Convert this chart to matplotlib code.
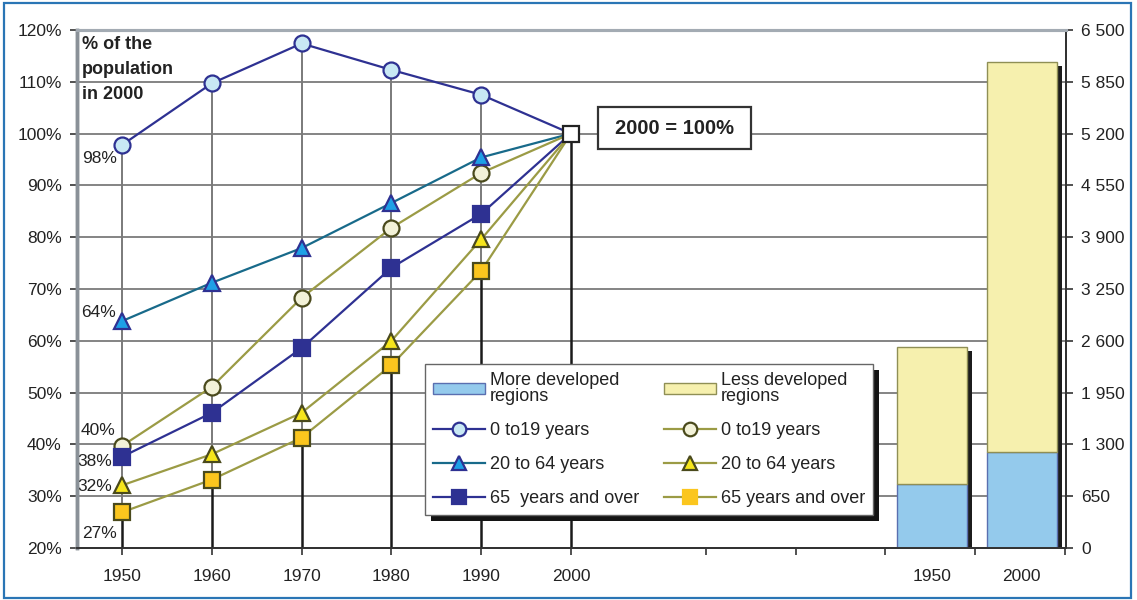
import matplotlib
matplotlib.use("Agg")
import matplotlib.pyplot as plt
from matplotlib.patches import Rectangle, Patch
from matplotlib.lines import Line2D
from matplotlib.transforms import IdentityTransform

plt.rcParams['font.family'] = ['Liberation Sans', 'DejaVu Sans']

# ---- data ------------------------------------------------------------
years = [1950, 1960, 1970, 1980, 1990, 2000]

# population as % of the 2000 level, more developed regions
more_0_19 = [97.8, 109.7, 117.4, 112.3, 107.5, 100]
more_20_64 = [63.8, 71.2, 77.9, 86.6, 95.4, 100]
more_65 = [37.6, 46.1, 58.6, 74.1, 84.5, 100]

# population as % of the 2000 level, less developed regions
less_0_19 = [39.7, 51.1, 68.3, 81.8, 92.4, 100]
less_20_64 = [32.1, 38.1, 46.1, 60.0, 79.6, 100]
less_65 = [26.9, 33.2, 41.3, 55.3, 73.5, 100]

# total population (millions)
bar_years = ["1950", "2000"]
pop_more = [805, 1205]
pop_less = [1720, 4890]

pct_ticks = [20, 30, 40, 50, 60, 70, 80, 90, 100, 110, 120]
pop_ticks = [0, 650, 1300, 1950, 2600, 3250, 3900, 4550, 5200, 5850, 6500]

# ---- layout ----------------------------------------------------------
W, H = 1137, 600
fig = plt.figure(figsize=(W / 100, H / 100), dpi=100)
L, R, B, T = 77, 1066, 548, 30
ax = fig.add_axes([L / W, 1 - B / H, (R - L) / W, (B - T) / H])
ax2 = ax.twinx()

xmin, xmax = 1944.99, 2055.12
ax.set_xlim(xmin, xmax)
ax.set_ylim(20, 120)
ax2.set_ylim(0, 6500)

BLUE = '#2e3192'
TEAL = '#186a8a'
OLIVE = '#9b9b45'
DARK_OLIVE = '#4a4a1c'
TXT = '#222222'

# horizontal gridlines
ax.set_yticks(pct_ticks)
ax.set_yticklabels([f"{v}%" for v in pct_ticks])
for v in pct_ticks[1:-1]:
    ax.axhline(v, color='#707070', lw=1.2, zorder=1)

# high-low lines (grey) and drop lines to the axis (black)
all_series = [more_0_19, more_20_64, more_65, less_0_19, less_20_64, less_65]
for i, x in enumerate(years):
    vals = [s[i] for s in all_series]
    lo, hi = min(vals), max(vals)
    ax.plot([x, x], [20, lo], color='#1a1a1a', lw=1.8, zorder=2, solid_capstyle='butt')
    if hi > lo:
        ax.plot([x, x], [lo, hi], color='#7a7a7a', lw=1.4, zorder=2, solid_capstyle='butt')

# series
styles = [
    (more_0_19, BLUE, 'o', '#c8e8f4', BLUE, 11.5, "0 to19 years"),
    (more_20_64, TEAL, '^', '#1ea0e6', BLUE, 11.5, "20 to 64 years"),
    (more_65, BLUE, 's', BLUE, BLUE, 12, "65  years and over"),
    (less_0_19, OLIVE, 'o', '#f3f2d8', DARK_OLIVE, 11.5, "0 to19 years"),
    (less_20_64, OLIVE, '^', '#f6e61c', DARK_OLIVE, 11.5, "20 to 64 years"),
    (less_65, OLIVE, 's', '#fbc61e', DARK_OLIVE, 12, "65 years and over"),
]
line_handles = []
for k, (vals, lc, mk, mfc, mec, ms, lab) in enumerate(styles):
    ax.plot(years[:-1], vals[:-1], color=lc, lw=1.6, marker=mk, ms=ms,
            mfc=mfc, mec=mec, mew=1.6, zorder=4 + (6 - k) * 0.1)
    ax.plot(years[-2:], vals[-2:], color=lc, lw=1.6, zorder=3.5)
    line_handles.append(Line2D([], [], color=lc, lw=1.6, marker=mk, ms=ms * 0.85,
                               mfc=mfc, mec=(mfc if mk == 's' else mec), mew=1.6))

# reference point 2000 = 100 %
ax.plot([2000], [100], marker='s', ms=11.5, mfc='white', mec='#222222', mew=1.6, zorder=6)

# value labels for 1950
labels_1950 = [
    (more_0_19[0], (-16, -9.5)),
    (more_20_64[0], (-17, 6.5)),
    (less_0_19[0], (-17, 11)),
    (more_65[0], (-19.5, -3.6)),
    (less_20_64[0], (-19.5, -0.7)),
    (less_65[0], (-16.5, -15)),
]
for v, off in labels_1950:
    ax.annotate(f"{round(v)}%", (1950, v), xytext=off, textcoords='offset points',
                ha='center', va='center', fontsize=12.5, color=TXT, zorder=7)

# title text in the upper-left corner
fig.text(82 / W, 1 - 36 / H, "% of the\npopulation\nin 2000", ha='left', va='top',
         fontsize=13, fontweight='bold', color=TXT, linespacing=1.6)

# "2000 = 100%" box
bx0, bx1, by0, by1 = 598, 751, 107, 149
ax.add_patch(Rectangle(((bx0 - L) / (R - L), (B - by1) / (B - T)),
                       (bx1 - bx0) / (R - L), (by1 - by0) / (B - T),
                       transform=ax.transAxes, facecolor='white', edgecolor='#333333',
                       lw=1.6, zorder=6))
ax.text(((bx0 + bx1) / 2 - L) / (R - L), (B - (by0 + by1) / 2) / (B - T), "2000 = 100%",
        transform=ax.transAxes, ha='center', va='center', fontsize=14.5,
        fontweight='bold', color=TXT, zorder=7)

# stacked bars of total population
bar_x = [2040.2, 2050.2]
bw = 7.8
totals = [m + l for m, l in zip(pop_more, pop_less)]
ax2.bar([x + 0.6 for x in bar_x], [t - 50 for t in totals], width=bw, color='#1c1c1c',
        lw=0, zorder=1)
ax2.bar(bar_x, pop_more, width=bw, color='#94caec', edgecolor='#5a6fb0', lw=1.0, zorder=2)
ax2.bar(bar_x, pop_less, bottom=pop_more, width=bw, color='#f6f0ae', edgecolor='#8f8f55',
        lw=1.0, zorder=2)
ax2.set_yticks(pop_ticks)
ax2.set_yticklabels([f"{v:,}".replace(",", " ") for v in pop_ticks])

# x axis ticks
ax.set_xticks(years + bar_x)
ax.set_xticklabels([str(y) for y in years] + bar_years)
ax.set_xticks([2015, 2025, 2035, 2045, 2055], minor=True)
for t in ax.xaxis.get_major_ticks()[len(years):]:
    t.tick1line.set_visible(False)
ax.tick_params(axis='x', which='both', direction='out', length=5, width=1.2,
               color='#333333', pad=10, labelsize=12.5, labelcolor=TXT)
ax.tick_params(axis='y', direction='out', length=5, width=1.2, color='#333333',
               pad=6, labelsize=12.5, labelcolor=TXT)
ax2.tick_params(axis='y', direction='out', length=5, width=1.2, color='#333333',
                pad=6, labelsize=12.5, labelcolor=TXT)
for a in (ax, ax2):
    a.spines['left'].set_color('#8a9198')
    a.spines['left'].set_linewidth(2.5)
    a.spines['top'].set_color('#a3abb3')
    a.spines['top'].set_linewidth(2.2)
    a.spines['bottom'].set_color('#333333')
    a.spines['bottom'].set_linewidth(1.4)
    a.spines['right'].set_color('#333333')
    a.spines['right'].set_linewidth(1.4)

# legend
handles = [Patch(facecolor='#94caec', edgecolor='#5a6fb0'), *line_handles[:3],
           Patch(facecolor='#f6f0ae', edgecolor='#8f8f55'), *line_handles[3:]]
labels = ["More developed\nregions", styles[0][6], styles[1][6], styles[2][6],
          "Less developed\nregions", styles[3][6], styles[4][6], styles[5][6]]
leg = ax2.legend(handles, labels, ncol=2, loc='upper left',
                 bbox_to_anchor=(425 / W, 1 - 364 / H), bbox_transform=fig.transFigure,
                 borderaxespad=0, frameon=True, fancybox=False, framealpha=1,
                 edgecolor='#666666', fontsize=13, handlelength=2.9, handleheight=0.6,
                 handletextpad=0.25, columnspacing=1.37, labelspacing=0.95,
                 borderpad=0.45)
leg.get_frame().set_linewidth(1.0)
leg.set_zorder(10)
for t in leg.get_texts():
    t.set_color(TXT)
    t.set_linespacing(0.9)

fig.canvas.draw()
bb = leg.get_window_extent()
ax2.add_patch(Rectangle((bb.x0 + 6, bb.y0 - 6), bb.width, bb.height,
                        transform=IdentityTransform(), facecolor='#141414',
                        edgecolor='none', zorder=9, clip_on=False))

# frame around the figure
fig.patches.append(Rectangle((4 / W, 1 - 598 / H), 1127 / W, 595 / H, fill=False,
                             edgecolor='#2a75b5', lw=1.6, transform=fig.transFigure))

fig.savefig("out.png", dpi=100)
